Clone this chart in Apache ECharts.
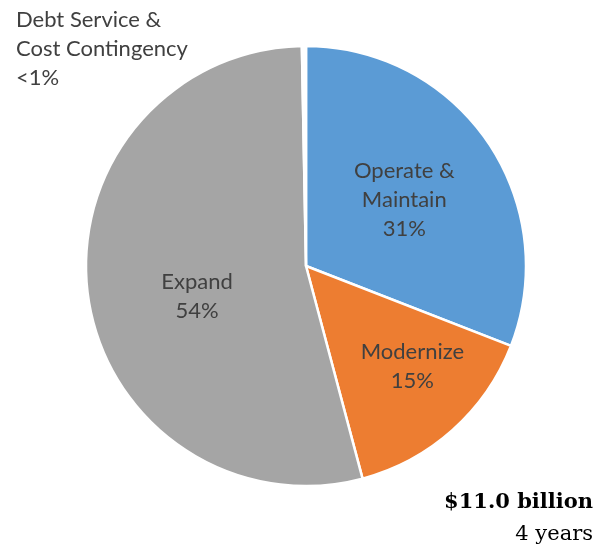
<!DOCTYPE html>
<html>
<head>
<meta charset="utf-8">
<script src="https://cdn.jsdelivr.net/npm/echarts@6/dist/echarts.min.js"></script>
<style>
  html, body { margin: 0; padding: 0; background: #fff; }
  #chart { width: 605px; height: 550px; }
</style>
</head>
<body>
<div id="chart"></div>
<script>
// Four-year program budget split, percent of total
const categories = ['Operate &\nMaintain', 'Modernize', 'Expand', 'Debt Service &\nCost Contingency'];
const shares = [31, 15, 54, 0.3];
const shareLabels = ['31%', '15%', '54%', '<1%'];
const sliceColors = ['#5B9BD5', '#ED7D31', '#A5A5A5', '#FFFFFF'];
const totalText = '$11.0 billion';
const periodText = '4 years';

const textColor = '#404040';

// Nudges that move the inside labels to their spots on each slice
const labelOffsets = [[5, -2], [31, 16], [3, 15], [0, 0]];

const data = categories.map((name, i) => ({
  name: name,
  value: shares[i],
  itemStyle: { color: sliceColors[i] },
  label: { offset: labelOffsets[i] }
}));

const chart = echarts.init(document.getElementById('chart'), null, { renderer: 'canvas' });
chart.setOption({
  animation: false,
  title: [{
    text: totalText,
    right: 12,
    top: 492,
    padding: 0,
    textStyle: {
      fontFamily: 'DejaVu Serif',
      fontWeight: 'bold',
      fontSize: 21,
      color: '#000'
    }
  }, {
    text: periodText,
    right: 12,
    top: 524,
    padding: 0,
    textStyle: {
      fontFamily: 'DejaVu Serif',
      fontWeight: 'normal',
      fontSize: 21,
      color: '#000'
    }
  }],
  series: [{
    type: 'pie',
    center: [306, 266],
    radius: 220,
    startAngle: 90,
    clockwise: true,
    avoidLabelOverlap: false,
    itemStyle: { borderColor: '#fff', borderWidth: 2.5 },
    emphasis: { disabled: true },
    labelLine: { show: false },
    label: {
      show: true,
      position: 'inside',
      color: textColor,
      formatter: function (p) {
        const lines = (p.name + '\n' + shareLabels[p.dataIndex]).split('\n');
        return lines.map(s => '{t|' + s + '}').join('\n');
      },
      rich: {
        t: { fontFamily: 'Lato', fontSize: 22, lineHeight: 29, color: textColor }
      }
    },
    labelLayout: function (params) {
      if (params.dataIndex === 3) {
        return { x: 16, y: 49, align: 'left', verticalAlign: 'middle' };
      }
      return {};
    },
    data: data
  }]
});
</script>
</body>
</html>
